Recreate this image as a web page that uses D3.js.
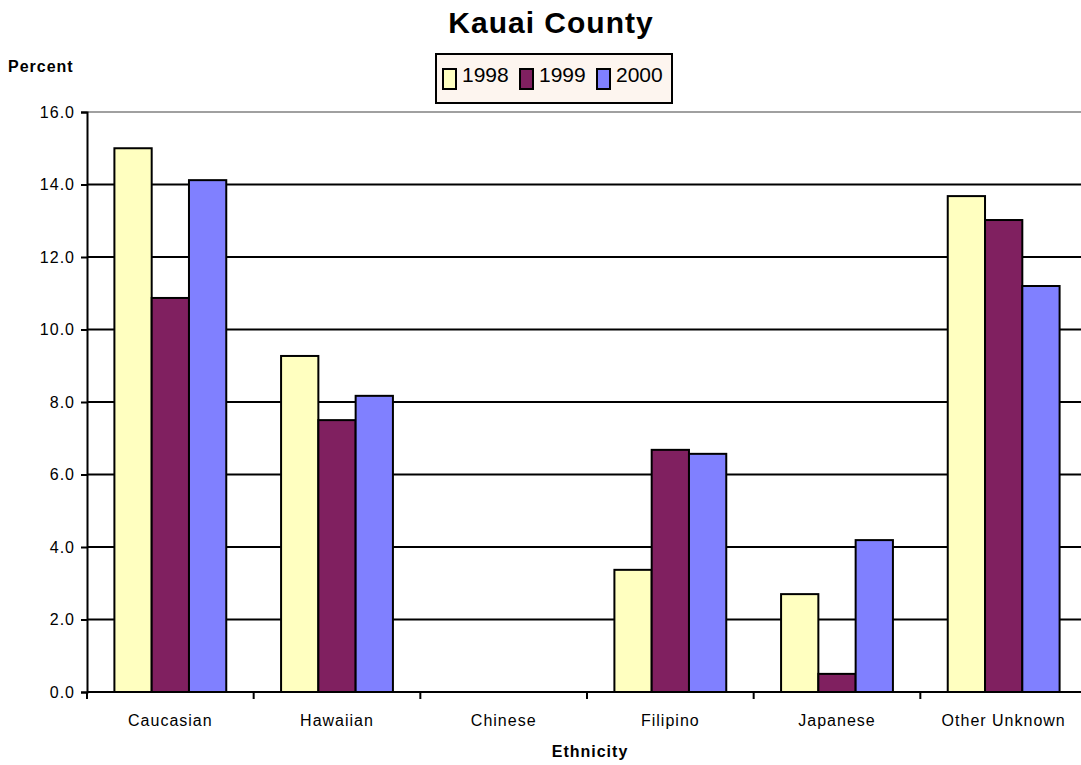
<!DOCTYPE html>
<html><head><meta charset="utf-8">
<script src="https://cdn.jsdelivr.net/npm/d3@7/dist/d3.min.js"></script>
<style>body{margin:0;background:#fff;}svg{display:block;font-family:"Liberation Sans",Arial,sans-serif;}</style>
</head><body>
<svg id="c" width="1081" height="765"></svg>
<script>
const categories = ["Caucasian","Hawaiian","Chinese","Filipino","Japanese","Other Unknown"];
const years = ["1998","1999","2000"];
const v1998 = [15.0, 9.27, 0, 3.37, 2.70, 13.68];
const v1999 = [10.87, 7.5, 0, 6.68, 0.5, 13.02];
const v2000 = [14.12, 8.17, 0, 6.57, 4.19, 11.2];
const yTicks = [0,2,4,6,8,10,12,14,16];
const colors = ["#FFFFC0","#802060","#8080FF"];

const series = [v1998, v1999, v2000];
const svg = d3.select("#c");
const L = 87, R = 1087, T = 112, B = 692, W = 1081;
const x = d3.scaleBand().domain(categories).range([L, R]).paddingInner(0).paddingOuter(0);
const y = d3.scaleLinear().domain([0,16]).range([B, T]);
const inner = d3.scaleBand().domain(years).range([0, x.bandwidth()]).paddingOuter(0.735).paddingInner(0);

// gridlines
svg.append("g").selectAll("line").data(yTicks.filter(d=>d>0)).join("line")
  .attr("x1", L).attr("x2", W).attr("y1", d=>y(d)).attr("y2", d=>y(d))
  .attr("stroke", d=> d===16 ? "#808080" : "#000").attr("stroke-width", d=> d===16 ? 1.5 : 2);

// bars
const data = [];
categories.forEach((c,i)=>years.forEach((yr,j)=>data.push({c, yr, v: series[j][i], j})));
svg.append("g").selectAll("rect").data(data.filter(d=>d.v>0)).join("rect")
  .attr("x", d=>x(d.c)+inner(d.yr)).attr("width", inner.bandwidth())
  .attr("y", d=>y(d.v)).attr("height", d=>B - y(d.v))
  .attr("fill", d=>colors[d.j]).attr("stroke","#000").attr("stroke-width",2);

const tickFont = (sel)=>sel.attr("font-size",16).attr("letter-spacing",1).attr("fill","#000")
  .attr("font-family","Liberation Sans, Arial, sans-serif");

// y axis
const ya = svg.append("g").attr("transform",`translate(${L},0)`)
  .call(d3.axisLeft(y).tickValues(yTicks).tickFormat(d3.format(".1f")).tickSize(6).tickPadding(5));
ya.select(".domain").attr("stroke","#000").attr("stroke-width",2);
ya.selectAll(".tick line").attr("stroke","#000").attr("stroke-width",2);
ya.selectAll("text").call(tickFont).attr("dx",-1);

// x axis
const xa = svg.append("g").attr("transform",`translate(0,${B})`)
  .call(d3.axisBottom(x).tickSize(0).tickPadding(23));
xa.select(".domain").attr("d",`M${L},0H${W}`).attr("stroke","#000").attr("stroke-width",2);
xa.selectAll("text").call(tickFont);
const bounds = categories.map(c=>x(c)).concat([R]).filter(d=>d<W);
svg.append("g").selectAll("line").data(bounds).join("line")
  .attr("x1",d=>d).attr("x2",d=>d).attr("y1",B).attr("y2",B+7).attr("stroke","#000").attr("stroke-width",2);

// titles
svg.append("text").attr("x",551).attr("y",33).attr("text-anchor","middle")
  .attr("font-size",30).attr("letter-spacing",1).attr("font-weight","bold").text("Kauai County");
svg.append("text").attr("x",8).attr("y",72).attr("font-size",16).attr("letter-spacing",1).attr("font-weight","bold").text("Percent");
svg.append("text").attr("x",590).attr("y",757).attr("text-anchor","middle")
  .attr("font-size",16).attr("letter-spacing",1).attr("font-weight","bold").text("Ethnicity");

// legend
const lg = svg.append("g");
lg.append("rect").attr("x",436).attr("y",54).attr("width",236).attr("height",49)
  .attr("fill","#FDF5EF").attr("stroke","#000").attr("stroke-width",2);
const lx = [443, 520, 597];
years.forEach((yr,j)=>{
  lg.append("rect").attr("x",lx[j]).attr("y",69).attr("width",13).attr("height",20)
    .attr("fill",colors[j]).attr("stroke","#000").attr("stroke-width",2);
  lg.append("text").attr("x",lx[j]+19).attr("y",82).attr("font-size",21).attr("fill","#000").text(yr);
});
</script>
</body></html>
